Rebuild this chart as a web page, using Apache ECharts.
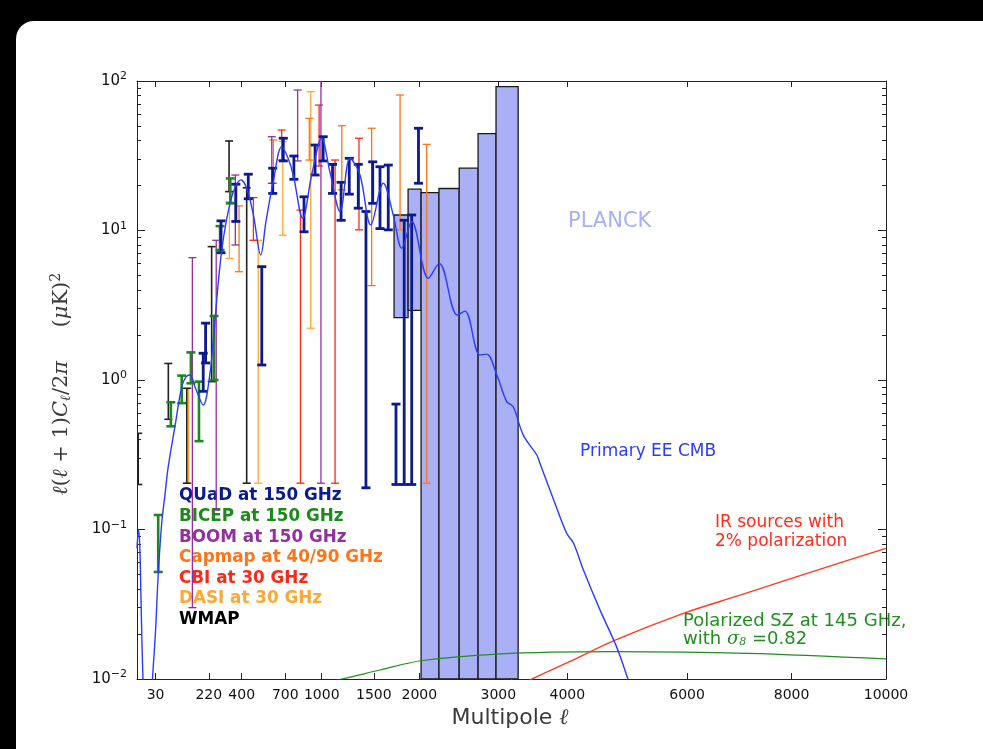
<!DOCTYPE html>
<html><head><meta charset="utf-8">
<script src="https://cdn.jsdelivr.net/npm/echarts@6/dist/echarts.min.js"></script>
<style>
html,body{margin:0;padding:0;background:#000;width:983px;height:749px;overflow:hidden}
#panel{position:absolute;left:16px;top:21px;right:0;bottom:0;background:#fff;border-top-left-radius:18px}
#chart{position:absolute;left:0;top:0;width:983px;height:749px}
</style></head><body>
<div id="panel"></div><div id="chart"></div>
<script>
// ---- data (multipole l, values in (uK)^2) ----
const xTickLabels = [30, 220, 400, 700, 1000, 1500, 2000, 3000, 4000, 6000, 8000, 10000];
const yTickLabels = [0.01, 0.1, 1, 10, 100];

// Primary EE CMB theory curve [l, value]
const eeCurve = [[2,0.075],[3.2,0.1],[4.5,0.075],[5.7,0.035],[7,0.016],[8.5,0.0085],[11,0.003],[15,0.002],[19,0.004],[22,0.008],[30,0.021],[36,0.05],[44.5,0.11],[53,0.17],[62,0.26],[83,0.49],[106,0.9],[122,1.05],[137,1.08],[160,0.88],[194,0.68],[226,1.11],[242,1.85],[286,7.4],[341,16.8],[396,21.8],[431,19.2],[474,12.7],[523,6.86],[559,11.5],[611,21.2],[673,36.4],[721,30.5],[762,23.5],[838,12.1],[913,23.5],[999,41.4],[1073,24.7],[1166,13.4],[1262,30.4],[1359,23.5],[1468,10.9],[1599,20.7],[1706,12.7],[1800,7.6],[1912,11.5],[2106,4.79],[2236,6.03],[2460,2.72],[2557,2.89],[2752,1.47],[2842,1.49],[2979,1.08],[3115,0.716],[3206,0.662],[3348,0.428],[3543,0.315],[3589,0.277],[3812,0.15],[3990,0.0944],[4096,0.081],[4250,0.0536],[4513,0.029],[4784,0.0164],[4972,0.01],[5200,0.0055]];
// IR sources with 2% polarization
const irCurve = [[3300,0.009],[3475,0.01],[4000,0.01285],[4760,0.0182],[5934,0.0275],[7000,0.0365],[8000,0.0471],[9000,0.0598],[10000,0.0748]];
// Polarized SZ at 145 GHz
const szCurve = [[1000,0.0094],[1183,0.01],[1564,0.01148],[2018,0.01325],[2979,0.01469],[4727,0.01524],[7115,0.01486],[10000,0.01362]];

// PLANCK forecast boxes: bin edges, lower and upper values
const planckEdges = [1715, 1871, 2020, 2233, 2484, 2728, 2968, 3275];
const planckLow  = [2.61, 2.92, 0.01, 0.01, 0.01, 0.01, 0.01];
const planckHigh = [12.7, 18.9, 17.9, 19.1, 26.1, 44.4, 91.6];

// Error bars [l, low, high]
const quad = [[194,0.84,1.51],[205,1.3,2.4],[282,7.1,11.6],[365,11.5,20.4],[441,16.3,23.8],[530,1.26,5.73],[607,17.7,26.1],[685,29.2,41.4],[767,22.0,31.5],[849,9.8,16.8],[942,23.5,37.3],[1013,29.2,42.4],[1097,17.7,27.7],[1176,11.7,21.0],[1254,17.5,30.4],[1342,14.1,27.7],[1419,0.19,13.4],[1488,15.2,28.8],[1564,10.3,26.7],[1652,10.1,27.4],[1736,0.2,0.69],[1827,0.2,11.7],[1912,0.2,12.7],[1990,20.7,48.3]];
const bicep = [[36,0.052,0.125],[70,0.49,0.71],[106,0.7,1.07],[141,0.95,1.53],[175,0.39,0.975],[246,1.0,2.68],[277,7.4,10.7],[333,15.2,22.3]];
const boom = [[147,0.03,6.58],[257,0.135,8.6],[362,8.0,23.5],[600,20.7,42.4],[797,29.2,87],[993,0.204,120]];
const capmap = [[384,5.3,14.6],[611,20.7,40.3],[893,29.6,56.3],[1183,18.7,50.2],[1477,4.28,48.3],[1781,10.1,80.6],[2086,0.204,37.7]];
const cbi = [[474,8.6,16.6],[673,29.6,47],[820,0.204,13.7],[977,27,69],[1120,0.204,29.6],[1349,10.1,41.4]];
const dasi = [[132,0.204,0.88],[328,6.5,15.6],[506,0.204,8.6],[681,9.3,39.3],[905,2.22,84.8]];
const wmap = [[3,0.2,0.44],[62.5,0.546,1.29],[125,0.204,0.88],[234,0.975,7.8],[326,18.2,39.7],[431,0.204,19.3]];

const legendNames = ['QUaD at 150 GHz','BICEP at 150 GHz','BOOM at 150 GHz','Capmap at 40/90 GHz','CBI at 30 GHz','DASI at 30 GHz','WMAP'];
const legendColors = ['#0b1a8f','#1b8a1b','#93309e','#ff7418','#ff2616','#ffa733','#000000'];

// ---- chart ----
const P = 0.6;                       // axis is linear in l^0.6
const tx = l => Math.pow(l, P);
const yMinor = [];
[0.01,0.1,1,10].forEach(d => { for (let k = 2; k <= 9; k++) yMinor.push(+(k*d).toPrecision(3)); });

function errSeries(name, rows, color, width, cap) {
  return {
    type: 'custom', name: name, clip: true, z: 3,
    data: rows.map(r => [tx(r[0]), r[1], r[2]]),
    encode: {x: 0, y: [1, 2]},
    renderItem: function (params, api) {
      const x = api.value(0);
      const lo = api.coord([x, api.value(1)]);
      const hi = api.coord([x, api.value(2)]);
      const st = {stroke: color, lineWidth: width, fill: null};
      return {type: 'group', children: [
        {type: 'line', shape: {x1: lo[0], y1: lo[1], x2: hi[0], y2: hi[1]}, style: st},
        {type: 'line', shape: {x1: lo[0]-cap, y1: lo[1], x2: lo[0]+cap, y2: lo[1]}, style: st},
        {type: 'line', shape: {x1: hi[0]-cap, y1: hi[1], x2: hi[0]+cap, y2: hi[1]}, style: st}
      ]};
    }
  };
}
function curve(name, rows, color, width) {
  return {type: 'line', name: name, data: rows.map(r => [tx(r[0]), r[1]]), showSymbol: false,
    smooth: 0.35, clip: true, z: 4, lineStyle: {color: color, width: width}, silent: true};
}

const axisColor = '#222';
const font = 'DejaVu Sans';
const xMin = tx(2), xMax = tx(10000);
const xTicks = xTickLabels.map(tx);

const option = {
  animation: false,
  grid: {left: 137, top: 81, width: 749, height: 598, containLabel: false},
  xAxis: [
    {type: 'value', position: 'bottom', min: xMin, max: xMax,
     axisLine: {show: true, onZero: false, lineStyle: {color: axisColor, width: 1}},
     axisTick: {show: true, inside: true, length: 6, customValues: xTicks, lineStyle: {color: axisColor}},
     axisLabel: {show: true, customValues: xTicks, margin: 9, color: '#111', fontSize: 14, fontFamily: font,
       formatter: v => String(Math.round(Math.pow(v, 1 / P)))},
     splitLine: {show: false}},
    {type: 'value', position: 'top', min: xMin, max: xMax,
     axisLine: {show: true, onZero: false, lineStyle: {color: axisColor, width: 1}},
     axisTick: {show: true, inside: true, length: 6, customValues: xTicks, lineStyle: {color: axisColor}},
     axisLabel: {show: false}, splitLine: {show: false}}
  ],
  yAxis: [
    {type: 'log', logBase: 10, position: 'left', min: 0.01, max: 100,
     axisLine: {show: true, onZero: false, lineStyle: {color: axisColor, width: 1}},
     axisTick: {show: true, inside: true, length: 8, customValues: yTickLabels, lineStyle: {color: axisColor}},
     axisLabel: {show: true, customValues: yTickLabels, margin: 10, color: '#111',
       formatter: v => '{b|10}{e|' + String(Math.round(Math.log10(v))).replace('-', '\u2212') + '}',
       rich: {b: {fontSize: 15, fontFamily: font, color: '#111'},
              e: {fontSize: 11, fontFamily: font, color: '#111', padding: [0, 0, 9, 0]}}},
     splitLine: {show: false}},
    {type: 'log', logBase: 10, position: 'left', min: 0.01, max: 100,
     axisLine: {show: false}, axisLabel: {show: false}, splitLine: {show: false},
     axisTick: {show: true, inside: true, length: 4, customValues: yMinor, lineStyle: {color: axisColor}}},
    {type: 'log', logBase: 10, position: 'right', min: 0.01, max: 100,
     axisLine: {show: true, onZero: false, lineStyle: {color: axisColor, width: 1}},
     axisTick: {show: true, inside: true, length: 8, customValues: yTickLabels, lineStyle: {color: axisColor}},
     axisLabel: {show: false}, splitLine: {show: false}},
    {type: 'log', logBase: 10, position: 'right', min: 0.01, max: 100,
     axisLine: {show: false}, axisLabel: {show: false}, splitLine: {show: false},
     axisTick: {show: true, inside: true, length: 4, customValues: yMinor, lineStyle: {color: axisColor}}}
  ],
  series: [
    {type: 'custom', name: 'PLANCK', clip: true, z: 1,
     data: planckLow.map((lo, i) => [tx(planckEdges[i]), tx(planckEdges[i + 1]), lo, planckHigh[i]]),
     encode: {x: [0, 1], y: [2, 3]},
     renderItem: function (params, api) {
       const a = api.coord([api.value(0), api.value(3)]);
       const b = api.coord([api.value(1), api.value(2)]);
       return {type: 'rect', shape: {x: a[0], y: a[1], width: b[0] - a[0], height: b[1] - a[1]},
         style: {fill: '#aab0f6', stroke: '#1a1a1a', lineWidth: 1.3}};
     }},
    errSeries('DASI', dasi, legendColors[5], 1.3, 4),
    errSeries('CBI', cbi, legendColors[4], 1.3, 4),
    errSeries('Capmap', capmap, legendColors[3], 1.3, 4),
    errSeries('BOOM', boom, legendColors[2], 1.3, 4),
    errSeries('WMAP', wmap, '#222222', 1.6, 4),
    errSeries('BICEP', bicep, legendColors[1], 2.6, 4.5),
    errSeries('QUaD', quad, legendColors[0], 2.8, 4.5),
    curve('Polarized SZ', szCurve, '#1f8f1f', 1.2),
    curve('IR sources', irCurve, '#ff3a1f', 1.4),
    curve('Primary EE CMB', eeCurve, '#2a3bff', 1.4)
  ],
  graphic: [
    {type: 'text', x: 568, y: 222, style: {text: 'PLANCK', fill: '#a9aff4', font: '21px "DejaVu Sans"', textVerticalAlign: 'middle'}},
    {type: 'text', x: 580, y: 452, style: {text: 'Primary EE CMB', fill: '#2a3bff', font: '17px "DejaVu Sans"', textVerticalAlign: 'middle'}},
    {type: 'text', x: 715, y: 523, style: {text: 'IR sources with', fill: '#ff2a1a', font: '17px "DejaVu Sans"', textVerticalAlign: 'middle'}},
    {type: 'text', x: 715, y: 542, style: {text: '2% polarization', fill: '#ff2a1a', font: '17px "DejaVu Sans"', textVerticalAlign: 'middle'}},
    {type: 'text', x: 683, y: 621, style: {text: 'Polarized SZ at 145 GHz,', fill: '#1f8f1f', font: '18px "DejaVu Sans"', textVerticalAlign: 'middle'}},
    {type: 'text', x: 683, y: 639, style: {
      text: '{n|with }{i|\u03c3}{s|8}{n| =0.82}', textVerticalAlign: 'middle',
      rich: {n: {fill: '#1f8f1f', font: '18px "DejaVu Sans"'},
             i: {fill: '#1f8f1f', font: 'italic 18px "DejaVu Serif"'},
             s: {fill: '#1f8f1f', font: 'italic 11px "DejaVu Serif"', padding: [7, 0, 0, 0]}}}},
    ...legendNames.map((t, i) => ({type: 'text', x: 179, y: 496 + i * 20.6,
      style: {text: t, fill: legendColors[i], font: 'bold 16.8px "DejaVu Sans"', textVerticalAlign: 'middle'}})),
    {type: 'text', x: 510, y: 718, style: {
      text: '{n|Multipole }{i|\u2113}', textAlign: 'center', textVerticalAlign: 'middle',
      rich: {n: {fill: '#3a3a3a', font: '22px "DejaVu Sans"'}, i: {fill: '#3a3a3a', font: 'italic 22px "DejaVu Serif"'}}}},
    {type: 'text', x: 62, y: 384, rotation: Math.PI / 2, style: {
      text: '{i|\u2113}{n|(}{i|\u2113}{n| + 1)}{i|C}{s|\u2113}{n|/2}{i|\u03c0}{n|     (}{i|\u03bc}{n|K)}{p|2}',
      textAlign: 'center', textVerticalAlign: 'middle',
      rich: {i: {fill: '#3a3a3a', font: 'italic 21px "DejaVu Serif"'},
             n: {fill: '#3a3a3a', font: '21px "DejaVu Serif"'},
             s: {fill: '#3a3a3a', font: 'italic 14px "DejaVu Serif"', padding: [9, 0, 0, 0]},
             p: {fill: '#3a3a3a', font: '14px "DejaVu Serif"', padding: [0, 0, 11, 0]}}}}
  ]
};
const chart = echarts.init(document.getElementById('chart'), null, {renderer: 'canvas'});
chart.setOption(option);
</script>
</body></html>
